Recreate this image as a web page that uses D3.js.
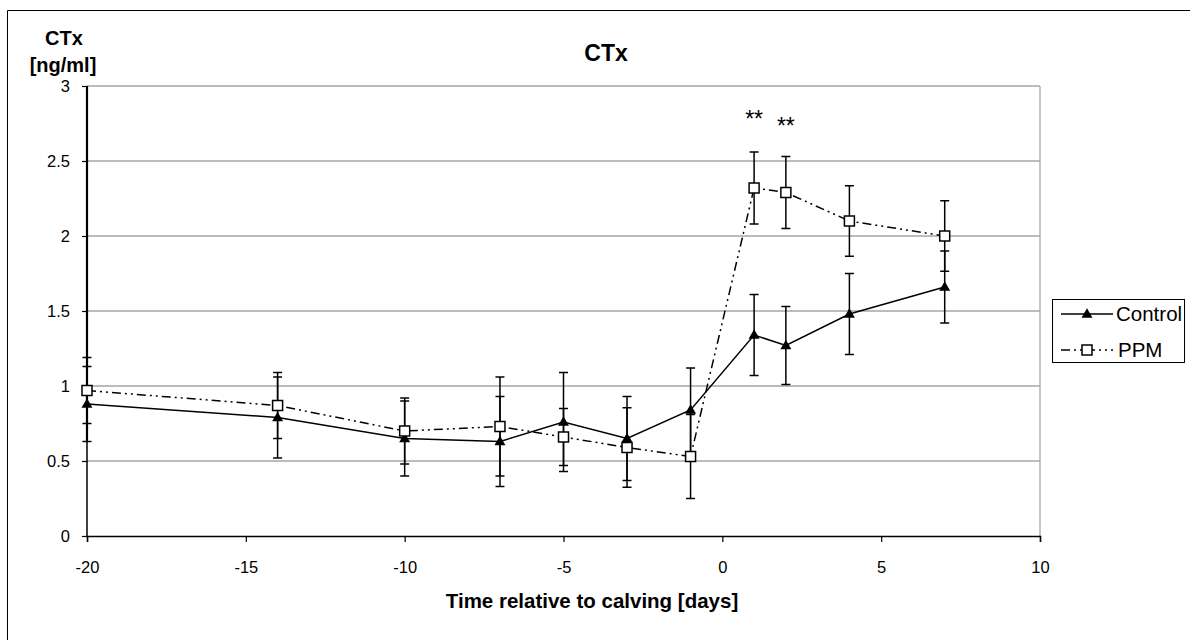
<!DOCTYPE html>
<html>
<head>
<meta charset="utf-8">
<script src="https://cdn.jsdelivr.net/npm/d3@7"></script>
<style>
  body { margin: 0; background: #fff; }
  svg text { font-family: "Liberation Sans", Arial, sans-serif; fill: #000; }
</style>
</head>
<body>
<div id="chart"></div>
<script>
// days relative to calving
var days = [-20, -14, -10, -7, -5, -3, -1, 1, 2, 4, 7]
var controlMean = [0.88, 0.79, 0.65, 0.63, 0.76, 0.65, 0.84, 1.34, 1.27, 1.48, 1.66]
var controlErr = [0.25, 0.27, 0.25, 0.30, 0.33, 0.28, 0.28, 0.27, 0.26, 0.27, 0.24]
var ppmMean = [0.97, 0.87, 0.70, 0.73, 0.66, 0.59, 0.53, 2.32, 2.29, 2.10, 2.00]
var ppmErr = [0.22, 0.22, 0.22, 0.33, 0.19, 0.265, 0.28, 0.24, 0.24, 0.235, 0.235]
var xTicks = [-20, -15, -10, -5, 0, 5, 10]
var yTicks = [0, 0.5, 1, 1.5, 2, 2.5, 3]
// significance marks (day, height of the label in ng/ml)
var sigDays = [1, 2]
var sigLevel = [2.73, 2.68]
// the heavy stroke along the axis at day -20
var leftSpike = [0.64, 3]

var width = 1190
var height = 640
var margin = { top: 86, right: 150, bottom: 104, left: 87 }

var svg = d3.select('#chart')
  .append('svg')
  .attr('width', width)
  .attr('height', height)

// outer frame (runs off the right and bottom edges)
svg.append('path')
  .attr('d', 'M7.5,' + height + 'V10.5H' + width)
  .attr('fill', 'none')
  .attr('stroke', '#000')
  .attr('stroke-width', 1)

var x = d3.scaleLinear().domain([-20, 10]).range([margin.left, 1040])
var y = d3.scaleLinear().domain([0, 3]).range([height - margin.bottom, margin.top])

// gridlines
svg.append('g')
  .selectAll('line')
  .data(yTicks.filter(d => d > 0))
  .join('line')
  .attr('x1', x(-20)).attr('x2', x(10))
  .attr('y1', d => y(d)).attr('y2', d => y(d))
  .attr('stroke', '#a6a6a6')
  .attr('stroke-width', 1.3)

// right plot border
svg.append('line')
  .attr('x1', x(10)).attr('x2', x(10))
  .attr('y1', y(0)).attr('y2', y(3))
  .attr('stroke', '#a6a6a6')
  .attr('stroke-width', 1.3)

// axes (plain hyphen for negatives, like the original)
var fmt = d => String(d)
var xAxis = d3.axisBottom(x).tickValues(xTicks).tickSize(6).tickPadding(19).tickFormat(fmt)
var yAxis = d3.axisLeft(y).tickValues(yTicks).tickSize(5).tickPadding(12).tickFormat(fmt)

var gx = svg.append('g')
  .attr('transform', 'translate(0,' + y(0) + ')')
  .call(xAxis)
var gy = svg.append('g')
  .attr('transform', 'translate(' + x(-20) + ',0)')
  .call(yAxis)

;[gx, gy].forEach(function (g) {
  g.select('.domain').attr('stroke', '#000').attr('stroke-width', 1.5)
  g.selectAll('.tick line').attr('stroke', '#000').attr('stroke-width', 1.2)
  g.selectAll('.tick text').style('font-size', '16.5px').attr('fill', '#000')
})
gy.select('.domain').attr('d', 'M0,' + y(3) + 'V' + y(0))

svg.append('line')
  .attr('x1', x(-20)).attr('x2', x(-20))
  .attr('y1', y(leftSpike[0])).attr('y2', y(leftSpike[1]))
  .attr('stroke', '#000')
  .attr('stroke-width', 2.2)

// titles
svg.append('text')
  .attr('x', 606).attr('y', 61)
  .attr('text-anchor', 'middle')
  .style('font-size', '23px').style('font-weight', 'bold')
  .text('CTx')

svg.append('text')
  .attr('x', 64).attr('y', 45)
  .attr('text-anchor', 'middle')
  .style('font-size', '20px').style('font-weight', 'bold')
  .text('CTx')
svg.append('text')
  .attr('x', 63).attr('y', 72)
  .attr('text-anchor', 'middle')
  .style('font-size', '20px').style('font-weight', 'bold')
  .text('[ng/ml]')

svg.append('text')
  .attr('x', 592).attr('y', 608)
  .attr('text-anchor', 'middle')
  .style('font-size', '20.5px').style('font-weight', 'bold')
  .text('Time relative to calving [days]')

// series
var control = days.map((d, i) => ({ day: d, mean: controlMean[i], err: controlErr[i] }))
var ppm = days.map((d, i) => ({ day: d, mean: ppmMean[i], err: ppmErr[i] }))

var line = d3.line().x(d => x(d.day)).y(d => y(d.mean))
var dashDot = '9,4,2,4,2,4'
var capHalf = 4.5

function errorBars(data) {
  var g = svg.append('g').attr('stroke', '#000').attr('stroke-width', 1.5)
  g.selectAll('line.bar')
    .data(data)
    .join('line')
    .attr('class', 'bar')
    .attr('x1', d => x(d.day)).attr('x2', d => x(d.day))
    .attr('y1', d => y(d.mean - d.err)).attr('y2', d => y(d.mean + d.err))
  g.selectAll('line.capHi')
    .data(data)
    .join('line')
    .attr('class', 'capHi')
    .attr('x1', d => x(d.day) - capHalf).attr('x2', d => x(d.day) + capHalf)
    .attr('y1', d => y(d.mean + d.err)).attr('y2', d => y(d.mean + d.err))
  g.selectAll('line.capLo')
    .data(data)
    .join('line')
    .attr('class', 'capLo')
    .attr('x1', d => x(d.day) - capHalf).attr('x2', d => x(d.day) + capHalf)
    .attr('y1', d => y(d.mean - d.err)).attr('y2', d => y(d.mean - d.err))
}

errorBars(control)
errorBars(ppm)

svg.append('path')
  .datum(control)
  .attr('d', line)
  .attr('fill', 'none')
  .attr('stroke', '#000')
  .attr('stroke-width', 1.5)

svg.append('path')
  .datum(ppm)
  .attr('d', line)
  .attr('fill', 'none')
  .attr('stroke', '#000')
  .attr('stroke-width', 1.5)
  .attr('stroke-dasharray', dashDot)

var triangle = d3.symbol().type(d3.symbolTriangle).size(52)

svg.append('g')
  .selectAll('path')
  .data(control)
  .join('path')
  .attr('d', triangle)
  .attr('transform', d => 'translate(' + x(d.day) + ',' + (y(d.mean) + 0.5) + ')')
  .attr('fill', '#000')

svg.append('g')
  .selectAll('rect')
  .data(ppm)
  .join('rect')
  .attr('x', d => x(d.day) - 5).attr('y', d => y(d.mean) - 5)
  .attr('width', 10).attr('height', 10)
  .attr('fill', '#fff')
  .attr('stroke', '#000')
  .attr('stroke-width', 1.5)

// significance stars
svg.append('g')
  .selectAll('text')
  .data(sigDays)
  .join('text')
  .attr('x', d => x(d))
  .attr('y', (d, i) => y(sigLevel[i]))
  .attr('text-anchor', 'middle')
  .style('font-size', '23px')
  .text('**')

// legend
var legend = svg.append('g').attr('transform', 'translate(1052,299)')
legend.append('rect')
  .attr('x', 0.5).attr('y', 0.5)
  .attr('width', 132).attr('height', 63)
  .attr('fill', '#fff')
  .attr('stroke', '#000')
  .attr('stroke-width', 1)

legend.append('line')
  .attr('x1', 9).attr('x2', 61).attr('y1', 15).attr('y2', 15)
  .attr('stroke', '#000').attr('stroke-width', 1.5)
legend.append('path')
  .attr('d', triangle)
  .attr('transform', 'translate(35,15.5)')
  .attr('fill', '#000')
legend.append('text')
  .attr('x', 64).attr('y', 22)
  .style('font-size', '20.5px')
  .text('Control')

legend.append('line')
  .attr('x1', 9).attr('x2', 61).attr('y1', 51).attr('y2', 51)
  .attr('stroke', '#000').attr('stroke-width', 1.5)
  .attr('stroke-dasharray', dashDot)
legend.append('rect')
  .attr('x', 30).attr('y', 46)
  .attr('width', 10).attr('height', 10)
  .attr('fill', '#fff')
  .attr('stroke', '#000')
  .attr('stroke-width', 1.5)
legend.append('text')
  .attr('x', 66).attr('y', 58)
  .style('font-size', '20.5px')
  .text('PPM')
</script>
</body>
</html>
